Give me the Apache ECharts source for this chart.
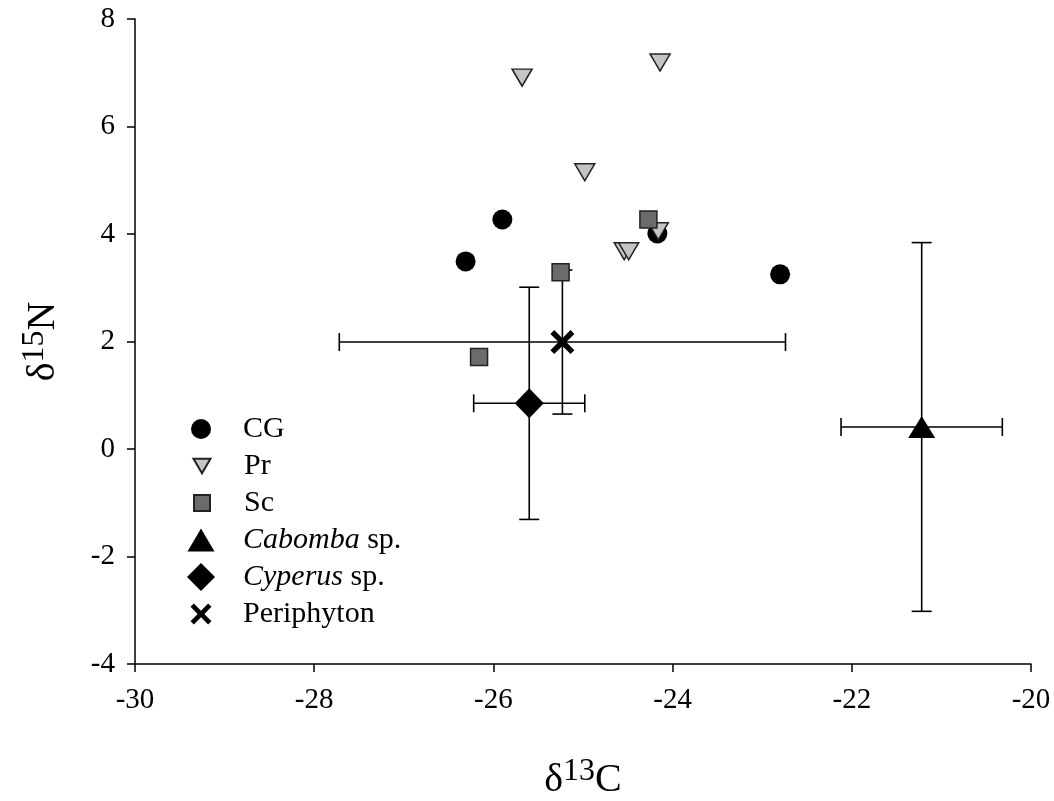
<!DOCTYPE html>
<html>
<head>
<meta charset="utf-8">
<script src="https://cdn.jsdelivr.net/npm/echarts@6/dist/echarts.min.js"></script>
<style>
  html, body { margin: 0; padding: 0; background: #fff; }
  #chart { width: 1054px; height: 801px; }
</style>
</head>
<body>
<div id="chart"></div>
<script>
// consumers (single fish)
const cgX = [-26.31, -25.90, -24.17, -22.80]
const cgY = [3.49, 4.27, 4.01, 3.25]
const prX = [-25.68, -24.14, -24.98, -24.54, -24.49, -24.16]
const prY = [6.91, 7.19, 5.15, 3.68, 3.68, 4.05]
const scX = [-24.27, -25.25, -26.16]
const scY = [4.27, 3.29, 1.71]

// sources: mean +- error
const srcNames = ['Cabomba sp.', 'Cyperus sp.', 'Periphyton']
const srcX = [-21.22, -25.60, -25.23]
const srcY = [0.41, 0.85, 1.99]
const srcErrX = [0.90, 0.62, 2.49]
const srcErrY = [3.43, 2.16, 1.34]

const xRange = [-30, -20, 2]
const yRange = [-4, 8, 2]

const serif = 'Liberation Serif'
const downTri = 'path://M0,0 L10,0 L5,8.6 Z'
const cross = 'path://M0,1.6 L1.6,0 L5,3.4 L8.4,0 L10,1.6 L6.6,5 L10,8.4 L8.4,10 L5,6.6 L1.6,10 L0,8.4 L3.4,5 Z'

const pairs = (xs, ys) => xs.map((x, i) => [x, ys[i]])

const chart = echarts.init(document.getElementById('chart'))

// one legend per entry so every icon can keep its own size
const legendIcons = [
  { name: 'CG', w: 20, h: 20 },
  { name: 'Pr', w: 17, h: 15 },
  { name: 'Sc', w: 16, h: 16 },
  { name: 'Cabomba sp.', w: 27, h: 23 },
  { name: 'Cyperus sp.', w: 28, h: 28 },
  { name: 'Periphyton', w: 21, h: 21 }
]
const legends = legendIcons.map((it, i) => {
  const left = 196 - it.w / 2
  return {
    data: [it.name],
    orient: 'vertical',
    left: left,
    top: 425 + i * 37 - 16,
    itemWidth: it.w,
    itemHeight: it.h,
    selectedMode: false,
    formatter: name => {
      const m = name.match(/^(\w+) sp\.$/)
      return m ? '{sp|}{i|' + m[1] + '}{r| sp.}' : '{sp|}{r|' + name + '}'
    },
    textStyle: {
      color: '#000',
      fontFamily: serif,
      fontSize: 30,
      rich: {
        sp: { width: 238 - (left + it.w + 5) },
        r: { fontFamily: serif, fontSize: 30, color: '#000', lineHeight: 32 },
        i: { fontFamily: serif, fontSize: 30, color: '#000', fontStyle: 'italic', lineHeight: 32 }
      }
    }
  }
})

const titleRich = {
  d: { fontFamily: serif, fontSize: 40, color: '#000', verticalAlign: 'bottom', lineHeight: 44 },
  s: { fontFamily: serif, fontSize: 32, color: '#000', verticalAlign: 'top', lineHeight: 30 }
}

const axisCommon = {
  type: 'value',
  nameLocation: 'middle',
  splitLine: { show: false },
  axisLine: { onZero: false, lineStyle: { color: '#000', width: 1.5 } },
  axisTick: { length: 8, lineStyle: { color: '#000', width: 1.5 } },
  axisLabel: { color: '#000', fontFamily: serif, fontSize: 29 }
}

chart.setOption({
  backgroundColor: '#fff',
  animation: false,
  grid: { left: 135, right: 23, top: 19, bottom: 137, outerBoundsMode: 'none' },
  legend: legends,
  xAxis: Object.assign({}, axisCommon, {
    min: xRange[0], max: xRange[1], interval: xRange[2],
    name: '{d|δ}{s|13}{d|C}',
    nameGap: 92,
    nameTextStyle: { rich: titleRich },
    axisLabel: Object.assign({}, axisCommon.axisLabel, { margin: 22 })
  }),
  yAxis: Object.assign({}, axisCommon, {
    min: yRange[0], max: yRange[1], interval: yRange[2],
    name: '{d|δ}{s|15}{d|N}',
    nameGap: 72,
    nameTextStyle: { rich: titleRich },
    axisLabel: Object.assign({}, axisCommon.axisLabel, { margin: 20 })
  }),
  series: [
    {
      type: 'custom',
      name: 'errors',
      z: 1,
      silent: true,
      data: srcNames.map((n, i) => [srcX[i], srcY[i], srcErrX[i], srcErrY[i]]),
      renderItem: (params, api) => {
        const x = api.value(0), y = api.value(1), ex = api.value(2), ey = api.value(3)
        const l = api.coord([x - ex, y])
        const r = api.coord([x + ex, y])
        const t = api.coord([x, y + ey])
        const b = api.coord([x, y - ey])
        const st = { stroke: '#000', lineWidth: 1.6 }
        const line = (x1, y1, x2, y2) => ({ type: 'line', shape: { x1, y1, x2, y2 }, style: st })
        return {
          type: 'group',
          children: [
            line(l[0], l[1], r[0], r[1]),
            line(l[0], l[1] - 9, l[0], l[1] + 9),
            line(r[0], r[1] - 9, r[0], r[1] + 9),
            line(t[0], t[1], b[0], b[1]),
            line(t[0] - 10, t[1], t[0] + 10, t[1]),
            line(b[0] - 10, b[1], b[0] + 10, b[1])
          ]
        }
      }
    },
    {
      name: 'CG', type: 'scatter', z: 3,
      symbol: 'circle', symbolSize: 20,
      itemStyle: { color: '#000', opacity: 1 },
      data: pairs(cgX, cgY)
    },
    {
      name: 'Pr', type: 'scatter', z: 3,
      symbol: downTri, symbolSize: [20, 17],
      itemStyle: { color: '#c4c4c4', borderColor: '#222', borderWidth: 1.5, opacity: 1 },
      data: pairs(prX, prY)
    },
    {
      name: 'Sc', type: 'scatter', z: 3,
      symbol: 'rect', symbolSize: 17,
      itemStyle: { color: '#6b6b6b', borderColor: '#222', borderWidth: 1.5, opacity: 1 },
      data: pairs(scX, scY)
    },
    {
      name: srcNames[0], type: 'scatter', z: 3,
      symbol: 'triangle', symbolSize: [27, 22],
      itemStyle: { color: '#000', opacity: 1 },
      data: [[srcX[0], srcY[0]]]
    },
    {
      name: srcNames[1], type: 'scatter', z: 3,
      symbol: 'diamond', symbolSize: [29, 30],
      itemStyle: { color: '#000', opacity: 1 },
      data: [[srcX[1], srcY[1]]]
    },
    {
      name: srcNames[2], type: 'scatter', z: 3,
      symbol: cross, symbolSize: 24,
      itemStyle: { color: '#000', opacity: 1 },
      data: [[srcX[2], srcY[2]]]
    }
  ]
})
</script>
</body>
</html>
